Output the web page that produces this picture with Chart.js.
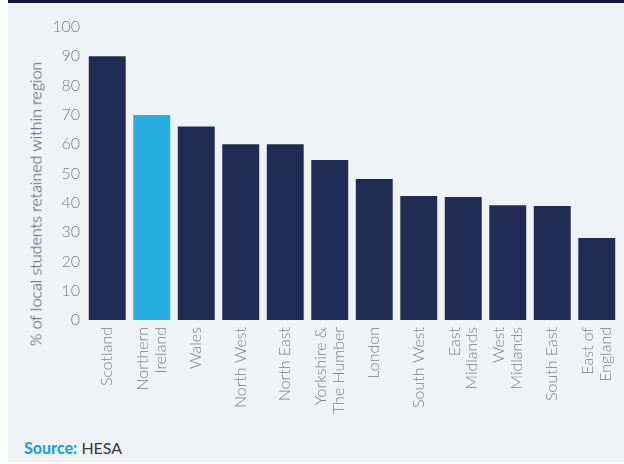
<!DOCTYPE html>
<html>
<head>
<meta charset="utf-8">
<script src="https://cdn.jsdelivr.net/npm/chart.js@4"></script>
<style>
  html, body { margin: 0; padding: 0; background: #ffffff; }
  body { width: 624px; height: 464px; position: relative; overflow: hidden; font-family: 'Lato', sans-serif; }
  .panel { position: absolute; left: 8px; top: 0; width: 616px; height: 462px; background: #eff3f6; border-top: 3px solid #13133d; box-sizing: border-box; }
  .chart-box { position: absolute; left: 8px; top: 3px; width: 616px; height: 427px; }
  .y-title { position: absolute; left: 35px; top: 204px; transform: translate(-50%, -50%) rotate(-90deg); white-space: nowrap; font-size: 16px; font-weight: 300; color: #34383e; }
  .source { position: absolute; left: 24px; top: 438px; font-size: 16px; color: #3a3a3a; }
  .source b { color: #1fa3dc; font-weight: 900; }
</style>
</head>
<body>
<div class="panel"></div>
<div class="chart-box"><canvas id="barChart" width="616" height="427"></canvas></div>
<div class="y-title">% of local students retained within region</div>
<div class="source"><b>Source:</b> HESA</div>
<script>
// regions, in the order shown
const regions = [
  'Scotland', ['Northern', 'Ireland'], 'Wales', 'North West', 'North East',
  ['Yorkshire &', 'The Humber'], 'London', 'South West', ['East', 'Midlands'],
  ['West', 'Midlands'], 'South East', ['East of', 'England']
];
// % of local students retained within region
const retained = [90, 70, 66, 60, 60, 54.6, 48.1, 42.3, 42, 39.2, 38.9, 28];
const yTicks = [0, 10, 20, 30, 40, 50, 60, 70, 80, 90, 100];

const navy = '#212c55';
const blue = '#29aee3';
const barColours = regions.map((r, i) => i === 1 ? blue : navy);
const labelLineHeight = 1.1;
const labelSize = 16;

// Chart.js puts the first line of a rotated label on the tick, centre the block instead
const centreRotatedLabels = {
  id: 'centreRotatedLabels',
  beforeDraw(chart) {
    const items = chart.scales.x.getLabelItems();
    items.forEach(it => {
      if (Array.isArray(it.label) && !it._centred) {
        const shift = (it.label.length - 1) * labelSize * labelLineHeight / 2;
        if (it.options && it.options.translation) {
          it.options.translation[0] -= shift;
        } else if (it.translation) {
          it.translation[0] -= shift;
        }
        it._centred = true;
      }
    });
  }
};

const ctx = document.getElementById('barChart').getContext('2d');
new Chart(ctx, {
  type: 'bar',
  data: {
    labels: regions,
    datasets: [{
      data: retained,
      backgroundColor: barColours,
      borderWidth: 0,
      categoryPercentage: 1,
      barPercentage: 0.83
    }]
  },
  plugins: [centreRotatedLabels],
  options: {
    responsive: false,
    animation: false,
    layout: { padding: { top: 24, right: 5, bottom: 0, left: 0 } },
    plugins: { legend: { display: false }, tooltip: { enabled: false } },
    scales: {
      x: {
        grid: { display: false, drawTicks: false },
        border: { display: false },
        ticks: {
          minRotation: 90, maxRotation: 90, autoSkip: false, padding: 7,
          color: '#808080', font: { family: 'Lato', size: labelSize, weight: '300', lineHeight: labelLineHeight }
        },
        afterFit: (scale) => {
          scale.height = 110;
          scale.paddingLeft = 0;
          scale.paddingRight = 0;
        }
      },
      y: {
        min: 0, max: 100,
        grid: { display: false, drawTicks: false },
        border: { display: false },
        afterBuildTicks: (scale) => { scale.ticks = yTicks.map(v => ({ value: v })); },
        ticks: {
          padding: 5,
          color: '#808080', font: { family: 'Lato', size: 16, weight: '300' }
        },
        afterFit: (scale) => {
          scale.width = 77;
          scale.paddingTop = 0;
          scale.paddingBottom = 0;
        }
      }
    }
  }
});
</script>
</body>
</html>
